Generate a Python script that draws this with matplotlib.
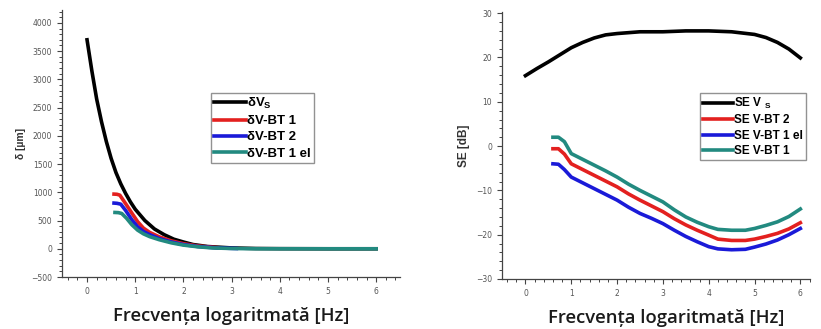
import matplotlib.pyplot as plt

plt.rcParams['mathtext.fontset'] = 'custom'
plt.rcParams['mathtext.rm'] = 'Liberation Sans'
plt.rcParams['mathtext.bf'] = 'Liberation Sans:bold'

# Adancimea de patrundere (stanga)
x_vs = [0, 0.1, 0.2, 0.3, 0.4, 0.5, 0.6, 0.7, 0.8, 0.9, 1.0, 1.2, 1.4, 1.6, 1.8, 2.0, 2.2, 2.5, 3.0, 3.5, 4, 5, 6]
d_vs = [3700, 3150, 2650, 2250, 1900, 1600, 1350, 1150, 980, 830, 700, 500, 350, 250, 170, 120, 75, 40, 15, 5, 2, 0, 0]

x_bt1 = [0.56, 0.62, 0.68, 0.8, 0.93, 1.05, 1.17, 1.3, 1.5, 1.75, 2.0, 2.3, 2.7]
d_bt1 = [968, 965, 950, 800, 632, 480, 366, 290, 210, 140, 90, 50, 20]

x_bt2 = [0.56, 0.62, 0.7, 0.8, 0.93, 1.05, 1.17, 1.3, 1.5, 1.75, 2.0, 2.3, 2.7, 3.1]
d_bt2 = [809, 805, 790, 680, 513, 390, 306, 250, 180, 120, 75, 40, 15, 5]

x_bt1el = [0.58, 0.65, 0.72, 0.82, 0.93, 1.05, 1.17, 1.3, 1.5, 1.75, 2.0, 2.3, 2.6, 3.0, 3.5, 4, 5, 6]
d_bt1el = [643, 640, 625, 540, 425, 330, 265, 215, 160, 105, 65, 35, 15, 5, 0, 0, 0, 0]

# Eficienta de ecranare (dreapta)
x_se_vs = [0, 0.25, 0.5, 0.75, 1, 1.25, 1.5, 1.75, 2, 2.5, 3, 3.5, 4, 4.5, 5, 5.25, 5.5, 5.75, 6]
se_vs = [15.9, 17.5, 19.0, 20.6, 22.2, 23.4, 24.4, 25.1, 25.4, 25.8, 25.8, 26.0, 26.0, 25.8, 25.2, 24.5, 23.4, 21.9, 19.9]

x_se = [0.6, 0.72, 0.85, 1.0, 1.25, 1.5, 1.75, 2.0, 2.25, 2.5, 2.75, 3.0, 3.25, 3.5, 3.75, 4.0, 4.2, 4.5, 4.8, 5.0, 5.25, 5.5, 5.75, 6.0]
se_bt2 = [-0.6, -0.6, -1.8, -4.0, -5.3, -6.6, -7.9, -9.2, -10.8, -12.2, -13.5, -14.8, -16.4, -17.8, -19.0, -20.1, -21.0, -21.3, -21.3, -21.0, -20.4, -19.7, -18.7, -17.3]
se_bt1el = [-4.0, -4.1, -5.3, -7.0, -8.3, -9.6, -10.9, -12.2, -13.8, -15.2, -16.3, -17.5, -19.0, -20.4, -21.6, -22.7, -23.2, -23.4, -23.3, -22.8, -22.1, -21.2, -20.0, -18.6]
se_bt1 = [2.0, 2.0, 1.0, -1.7, -3.0, -4.3, -5.6, -7.0, -8.6, -10.0, -11.3, -12.6, -14.4, -16.0, -17.2, -18.2, -18.8, -19.0, -19.0, -18.6, -17.9, -17.1, -15.9, -14.2]

RED = '#e3201f'
BLUE = '#1a1ad8'
TEAL = '#228a80'

fig = plt.figure(figsize=(8.21, 3.29), dpi=100)
ax1 = fig.add_axes([0.0755, 0.158, 0.412, 0.812])
ax2 = fig.add_axes([0.611, 0.152, 0.375, 0.812])


def stil_axe(ax):
    for s in ['top', 'right']:
        ax.spines[s].set_visible(False)
    for s in ['left', 'bottom']:
        ax.spines[s].set_color('#444444')
        ax.spines[s].set_linewidth(0.9)
    ax.minorticks_on()
    ax.tick_params(which='major', direction='out', length=3.5, width=0.8, color='#444444',
                   labelsize=5.5, labelcolor='#555555')
    ax.tick_params(which='minor', direction='out', length=2, width=0.7, color='#444444')
    ax.set_xticks([0, 1, 2, 3, 4, 5, 6])
    ax.set_xlabel('Frecvența logaritmată [Hz]', fontsize=13.3, color='#1a1a1a',
                  family='Open Sans', fontweight='semibold', labelpad=8)


lw = 2.6
ax1.plot(x_vs, d_vs, color='black', lw=lw, label=r'δV$_\mathbf{S}$')
ax1.plot(x_bt1, d_bt1, color=RED, lw=lw, label='δV-BT 1')
ax1.plot(x_bt2, d_bt2, color=BLUE, lw=lw, label='δV-BT 2')
ax1.plot(x_bt1el, d_bt1el, color=TEAL, lw=lw, label='δV-BT 1 el')
ax1.set_xlim(-0.52, 6.5)
ax1.set_ylim(-500, 4230)
ax1.set_yticks(range(-500, 4001, 500))
stil_axe(ax1)
ax1.set_ylabel('δ [µm]', fontsize=7.5, fontweight='bold', color='#333333', family='Liberation Sans')
leg1 = ax1.legend(loc='upper left', bbox_to_anchor=(0.44, 0.69), fancybox=False,
                  prop={'family': 'Liberation Sans', 'weight': 'bold', 'size': 9.5},
                  handlelength=2.4, handletextpad=0.1, labelspacing=0.3, borderpad=0.25,
                  borderaxespad=0)
leg1.get_frame().set_edgecolor('#777777')
leg1.get_frame().set_linewidth(1.0)

ax2.plot(x_se_vs, se_vs, color='black', lw=lw, label=r'SE V $_\mathbf{S}$')
ax2.plot(x_se, se_bt2, color=RED, lw=lw, label='SE V-BT 2')
ax2.plot(x_se, se_bt1el, color=BLUE, lw=lw, label='SE V-BT 1 el')
ax2.plot(x_se, se_bt1, color=TEAL, lw=lw, label='SE V-BT 1')
ax2.set_xlim(-0.52, 6.2)
ax2.set_ylim(-30, 30.3)
ax2.set_yticks(range(-30, 31, 10))
stil_axe(ax2)
ax2.xaxis.label.set_x(0.536)
ax2.set_ylabel('SE [dB]', fontsize=8.5, fontweight='bold', color='#333333', family='Liberation Sans')
leg2 = ax2.legend(loc='upper left', bbox_to_anchor=(0.643, 0.697), fancybox=False,
                  prop={'family': 'Liberation Sans', 'weight': 'bold', 'size': 8.5},
                  handlelength=2.6, handletextpad=0.1, labelspacing=0.3, borderpad=0.25,
                  borderaxespad=0)
leg2.get_frame().set_edgecolor('#777777')
leg2.get_frame().set_linewidth(1.0)

plt.savefig('out.png', dpi=100)
